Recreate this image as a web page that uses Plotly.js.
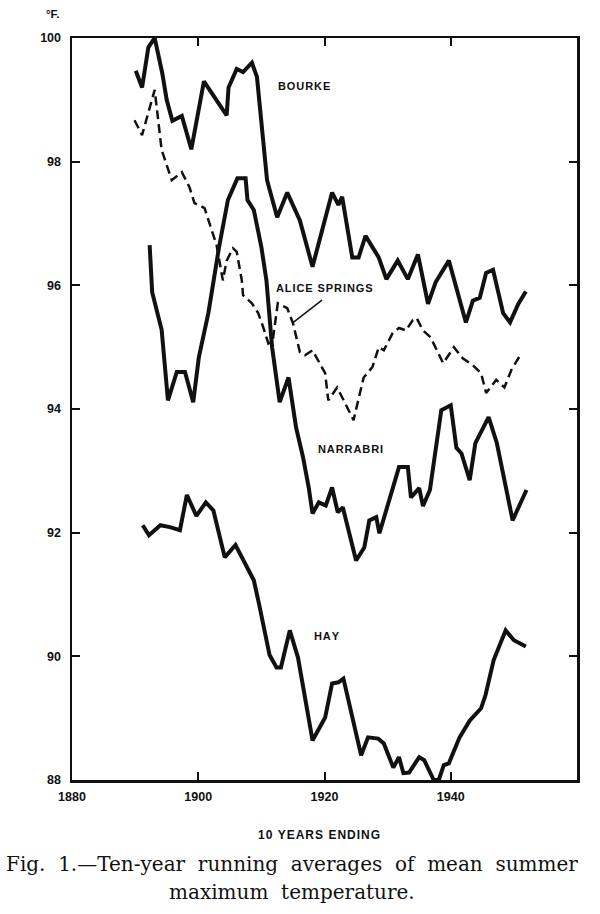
<!DOCTYPE html>
<html>
<head>
<meta charset="utf-8">
<script src="https://cdn.plot.ly/plotly-3.0.1.min.js"></script>
<style>html,body{margin:0;padding:0;background:#fff;}#chart{width:600px;height:914px;}</style>
</head>
<body>
<div id="chart"></div>
<script>
// Bourke
const bourkeYears = [1890.1,1891.1,1892.1,1893.1,1894.3,1895.0,1895.9,1897.4,1898.9,1900.9,1904.5,1904.8,1906.1,1907.1,1908.5,1909.3,1910.9,1912.5,1914.1,1916.1,1918.1,1921.2,1922.2,1922.8,1924.4,1925.4,1926.5,1927.6,1928.6,1929.8,1931.6,1933.2,1934.8,1936.4,1937.6,1939.7,1942.4,1943.5,1944.6,1945.6,1946.7,1948.3,1949.4,1950.7,1951.9];
const bourkeTemp  = [99.47,99.2,99.85,100.0,99.43,99.0,98.66,98.74,98.2,99.3,98.75,99.2,99.5,99.45,99.6,99.37,97.7,97.1,97.5,97.05,96.3,97.5,97.3,97.43,96.45,96.45,96.8,96.6,96.45,96.1,96.4,96.1,96.5,95.7,96.05,96.4,95.4,95.75,95.8,96.2,96.25,95.55,95.4,95.7,95.9];
// Alice Springs
const aliceYears = [1889.9,1891.1,1893.1,1894.2,1895.8,1897.4,1898.6,1899.4,1901.0,1902.9,1903.9,1904.5,1905.5,1906.1,1906.9,1907.1,1908.5,1909.5,1910.3,1911.1,1911.8,1912.6,1914.1,1915.0,1916.1,1916.9,1918.1,1920.1,1920.6,1922.0,1924.6,1926.2,1926.8,1927.6,1928.6,1929.4,1930.8,1931.8,1932.9,1934.0,1934.6,1935.6,1936.8,1938.8,1940.5,1941.9,1943.5,1944.8,1945.6,1947.2,1948.5,1949.6,1951.0];
const aliceTemp  = [98.67,98.43,99.16,98.19,97.7,97.83,97.59,97.33,97.25,96.65,96.08,96.4,96.6,96.54,96.08,95.84,95.71,95.55,95.32,95.06,95.11,95.71,95.63,95.39,94.92,94.87,94.95,94.58,94.14,94.35,93.82,94.51,94.58,94.68,95.0,94.95,95.23,95.31,95.27,95.44,95.47,95.27,95.16,94.74,95.0,94.82,94.71,94.58,94.26,94.47,94.35,94.63,94.87];
// Narrabri
const narrabriYears = [1892.3,1892.7,1894.2,1895.2,1896.6,1897.9,1899.2,1900.1,1901.6,1903.3,1904.7,1905.6,1906.2,1907.5,1907.8,1908.8,1910.0,1910.8,1911.7,1912.9,1914.3,1915.5,1916.6,1917.5,1918.1,1919.1,1920.2,1921.2,1922.1,1922.9,1925.0,1926.3,1927.1,1928.2,1928.7,1931.8,1933.2,1933.7,1935.0,1935.6,1936.7,1938.5,1940.0,1940.9,1941.7,1943.0,1943.9,1946.0,1947.3,1949.8,1952.0];
const narrabriTemp  = [96.65,95.89,95.28,94.14,94.6,94.6,94.11,94.84,95.55,96.62,97.38,97.59,97.73,97.73,97.38,97.22,96.62,96.08,95.0,94.11,94.51,93.7,93.22,92.73,92.31,92.49,92.44,92.73,92.33,92.41,91.55,91.76,92.2,92.25,91.99,93.06,93.06,92.57,92.72,92.43,92.69,93.98,94.06,93.37,93.28,92.85,93.45,93.87,93.45,92.2,92.69];
// Hay
const hayYears = [1891.2,1892.2,1894.0,1895.5,1897.1,1898.2,1899.7,1901.2,1902.4,1904.2,1905.9,1907.5,1908.8,1909.6,1910.5,1911.3,1912.4,1913.1,1914.5,1915.8,1918.1,1920.1,1921.2,1922.2,1923.0,1925.8,1926.9,1928.5,1929.4,1930.9,1931.8,1932.5,1933.4,1935.0,1935.8,1937.3,1938.1,1938.9,1939.7,1941.4,1943.0,1944.8,1945.5,1946.8,1948.7,1950.0,1951.9];
const hayTemp  = [92.12,91.96,92.12,92.09,92.04,92.61,92.27,92.49,92.36,91.6,91.8,91.5,91.23,90.86,90.37,90.02,89.82,89.82,90.42,89.98,88.64,89.01,89.56,89.58,89.64,88.4,88.69,88.67,88.59,88.2,88.37,88.11,88.12,88.37,88.32,88.0,88.0,88.24,88.27,88.69,88.96,89.16,89.37,89.94,90.42,90.26,90.16];

const xTicks = [1880,1900,1920,1940];
const xTickText = ['1880','1900','1920','1940'];
const yTicks = [88,90,92,94,96,98,100];
const yTickText = ['88','90','92','94','96','98','100'];

const stationLabels = ['BOURKE','ALICE SPRINGS','NARRABRI','HAY'];
const labelX = [1916.7,1920.0,1924.1,1920.4];
const labelY = [99.22,95.95,93.35,90.33];

const solid = {color:'#111', width:4};
const traces = [
  {x:bourkeYears, y:bourkeTemp, mode:'lines', line:solid, name:'Bourke'},
  {x:aliceYears, y:aliceTemp, mode:'lines', line:{color:'#111', width:2.5, dash:'9px,5px'}, name:'Alice Springs'},
  {x:narrabriYears, y:narrabriTemp, mode:'lines', line:solid, name:'Narrabri'},
  {x:hayYears, y:hayTemp, mode:'lines', line:solid, name:'Hay'}
];

const sans = 'Liberation Sans, Arial, sans-serif';
const labFont = {family:sans, size:11, color:'#111', weight:'bold'};
const annotations = stationLabels.map((t,i)=>({
  x:labelX[i], y:labelY[i], xref:'x', yref:'y', text:t.split('').join('\u200a'), showarrow:false, font:labFont
}));
annotations.push(
  {xref:'paper', yref:'paper', x:-0.02, y:1.0, yshift:16, xanchor:'right', yanchor:'bottom', text:'°F.', showarrow:false,
   font:{family:sans, size:11.5, color:'#111', weight:'bold'}},
  {xref:'paper', yref:'paper', x:0.49, y:0, yshift:-46, xanchor:'center', yanchor:'top', text:'10 YEARS ENDING'.split('').join('\u200a'), showarrow:false,
   font:{family:sans, size:12, color:'#111', weight:'bold'}},
  {xref:'paper', yref:'paper', x:0.435, y:0, yshift:-70, xanchor:'center', yanchor:'top',
   text:'Fig.  1.—Ten-year  running  averages  of  mean  summer', showarrow:false,
   font:{family:'DejaVu Serif, serif', size:20, color:'#111'}},
  {xref:'paper', yref:'paper', x:0.435, y:0, yshift:-98, xanchor:'center', yanchor:'top',
   text:'maximum  temperature.', showarrow:false,
   font:{family:'DejaVu Serif, serif', size:20, color:'#111'}}
);

const tickFont = {family:sans, size:12.5, color:'#111', weight:'bold'};
const layout = {
  width:600, height:914,
  margin:{l:72, r:23, t:38, b:134},
  paper_bgcolor:'#fff', plot_bgcolor:'#fff',
  showlegend:false,
  xaxis:{range:[1880,1960], tickvals:xTicks, ticktext:xTickText, ticks:'inside', ticklen:8, tickwidth:2, tickcolor:'#111',
    showline:true, linecolor:'#111', linewidth:2.5, mirror:'ticks', showgrid:false, zeroline:false,
    tickfont:tickFont, ticklabelstandoff:3},
  yaxis:{range:[88,100], tickvals:yTicks, ticktext:yTickText, ticks:'inside', ticklen:8, tickwidth:2, tickcolor:'#111',
    showline:true, linecolor:'#111', linewidth:2.5, mirror:'ticks', showgrid:false, zeroline:false,
    tickfont:tickFont, ticklabelstandoff:6},
  annotations:annotations,
  shapes:[{type:'line', xref:'x', yref:'y', x0:1919.6, y0:95.76, x1:1914.9, y1:95.39, line:{color:'#111', width:1.5}}]
};

Plotly.newPlot('chart', traces, layout, {staticPlot:true, displayModeBar:false});
</script>
</body>
</html>
